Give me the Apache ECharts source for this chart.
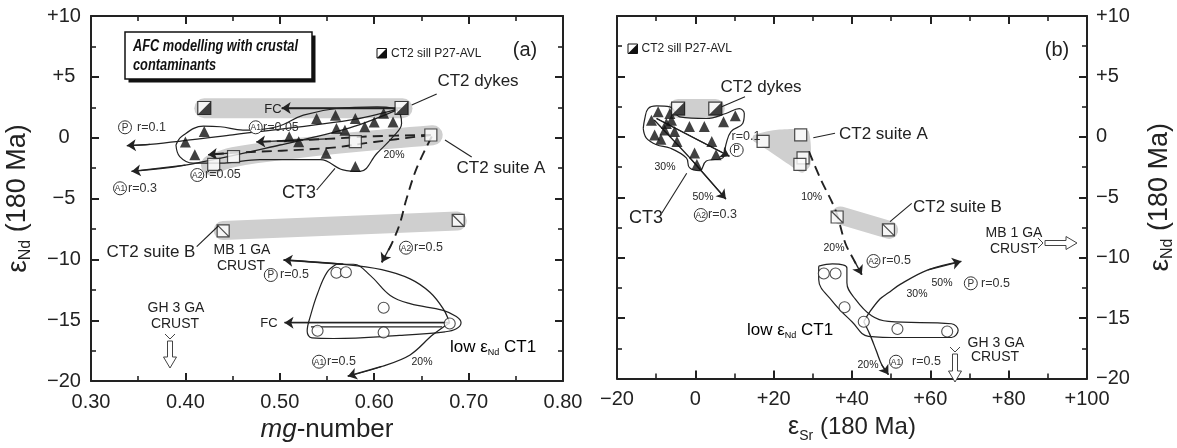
<!DOCTYPE html>
<html><head><meta charset="utf-8">
<script src="https://cdn.jsdelivr.net/npm/echarts@6/dist/echarts.min.js"></script>
<style>html,body{margin:0;padding:0;background:#fff}#chart{width:1177px;height:448px}</style>
</head><body><div id="chart"></div>
<script>
// ===== Panel (a): mg-number vs eNd(180 Ma) =====
const a_ct3 = [[0.400,-0.35],[0.420,0.50],[0.410,-1.40],[0.510,0.08],[0.520,-0.33],[0.539,1.58],[0.559,1.85],[0.580,1.58],[0.560,0.76],[0.569,0.62],[0.590,0.90],[0.600,1.30],[0.610,2.00],[0.620,1.30],[0.549,-1.28],[0.580,-2.37]];
const a_dykes = [[0.420,2.44],[0.629,2.44]];
const a_suiteA = [[0.430,-2.20],[0.451,-1.55],[0.580,-0.33],[0.660,0.22]];
const a_suiteB = [[0.440,-7.66],[0.689,-6.80]];
const a_ct1 = [[0.560,-11.10],[0.570,-11.06],[0.610,-13.97],[0.540,-15.86],[0.610,-16.00],[0.680,-15.27]];
const a_bandDykes = [[0.420,2.42],[0.630,2.42]];
const a_bandSuiteA = [[0.427,-2.25],[0.451,-1.60],[0.520,-0.85],[0.580,-0.35],[0.662,0.20]];
const a_bandSuiteB = [[0.440,-7.62],[0.688,-6.85]];
const a_ct3Field = [[0.390,-0.6],[0.396,0.1],[0.419,0.95],[0.437,0.9],[0.461,0.63],[0.497,0.9],[0.525,1.85],[0.560,2.4],[0.603,2.53],[0.624,2.26],[0.629,1.17],[0.620,0.08],[0.603,-1.28],[0.585,-2.77],[0.567,-2.64],[0.543,-1.8],[0.479,-1.8],[0.437,-2.09],[0.408,-2.09],[0.394,-1.55],[0.390,-0.6]];
const a_ct1Field = [[0.560,-10.4],[0.578,-10.4],[0.596,-11.33],[0.617,-12.96],[0.638,-13.64],[0.673,-14.19],[0.687,-14.7],[0.692,-15.2],[0.687,-15.7],[0.675,-15.95],[0.627,-16.25],[0.557,-16.5],[0.534,-16.45],[0.529,-15.9],[0.533,-14.5],[0.540,-12.8],[0.550,-11.06],[0.560,-10.4]];
const a_ct1Capsule = [[0.533,-15.55],[0.672,-15.55]];
const a_fcTop = [[0.629,2.44],[0.502,2.44]];
const a_pR01 = [[0.625,2.35],[0.574,1.44],[0.450,0.24],[0.3625,-0.55],[0.338,-0.65]];
const a_a1R03 = [[0.625,2.30],[0.574,0.80],[0.500,-0.60],[0.400,-2.25],[0.343,-2.77]];
const a_a1R005 = [[0.660,0.22],[0.600,0.12],[0.550,-0.10],[0.475,-0.35]];
const a_a2R005 = [[0.660,0.22],[0.600,-0.35],[0.553,-0.84],[0.450,-1.25],[0.424,-1.40]];
const a_a2R05 = [[0.661,0.10],[0.645,-2.50],[0.634,-5.08],[0.627,-7.10],[0.618,-8.80],[0.608,-10.24]];
const a_fcLow = [[0.680,-15.20],[0.505,-15.20]];
const a_pR05 = [[0.680,-15.20],[0.673,-14.05],[0.659,-12.70],[0.638,-11.60],[0.608,-10.84],[0.567,-10.40],[0.504,-10.05]];
const a_a1R05 = [[0.680,-15.20],[0.662,-16.20],[0.638,-17.85],[0.608,-18.80],[0.572,-19.60]];

// ===== Panel (b): eSr vs eNd (180 Ma) =====
const b_ct3 = [[-11.2,1.38],[-9.5,2.07],[-6.5,1.93],[-6.1,1.38],[-10.4,0.16],[-8.8,-0.2],[-7.8,0.57],[-7.4,1.11],[-5.3,0.44],[-4.7,-0.38],[-1.5,0.85],[2.3,0.85],[7.2,1.25],[10.2,1.74],[4.2,-0.38],[5.3,-1.47],[-0.2,-1.33],[0.4,-2.28]];
const b_dykes = [[-4.4,2.34],[5.1,2.34]];
const b_suiteA = [[17.3,-0.38],[26.9,0.16],[27.5,-1.74],[26.7,-2.28]];
const b_suiteB = [[36.2,-6.63],[49.3,-7.70]];
const b_ct1 = [[32.8,-11.3],[35.8,-11.3],[38.1,-14.1],[43.0,-15.3],[51.6,-15.9],[64.3,-16.1]];
const b_bandDykes = [[-4.4,2.34],[5.1,2.34]];
const b_patchSuiteA = [[14.6,-0.25],[15.0,0.16],[20.5,0.57],[26.4,0.65],[28.98,0.44],[29.4,-2.28],[27.3,-2.96],[23.9,-2.28],[17.1,-0.79]];
const b_bandSuiteB = [[37.0,-6.5],[49.5,-7.7]];
const b_ct3Field = [[-13.3,0.7],[-12.9,1.52],[-12.05,2.34],[-9.9,2.56],[-6.5,2.48],[-4.0,1.66],[2.8,1.52],[7.8,1.93],[11.2,2.34],[12.5,1.93],[12.1,1.11],[9.1,0.44],[7.8,-0.65],[7.0,-1.74],[2.8,-2.0],[1.1,-2.8],[-1.5,-2.55],[-2.3,-1.74],[-6.5,-0.92],[-9.9,-0.65],[-12.5,-0.1],[-13.3,0.7]];
const b_ct1Field = [[31.5,-10.7],[35.0,-10.5],[38.7,-10.84],[38.7,-12.07],[40.8,-13.4],[45.0,-14.8],[49.3,-15.27],[65.4,-15.46],[67.1,-16.0],[65.4,-16.6],[52.7,-16.6],[44.2,-16.5],[40.0,-15.3],[34.9,-13.56],[31.5,-11.8],[31.5,-10.7]];
const b_pR01 = [[-9.9,1.52],[8.7,-1.6]];
const b_a2R03 = [[-10.5,1.4],[-1.5,-1.7],[7.8,-5.14]];
const b_a2R05 = [[29.0,-1.2],[32.0,-3.5],[35.8,-6.08],[38.3,-8.8],[40.5,-10.2],[42.5,-11.4]];
const b_pR05 = [[43.0,-15.3],[44.5,-14.5],[47.2,-13.4],[49.3,-12.9],[52.3,-12.2],[59.4,-11.0],[67.9,-10.3]];
const b_a1R05 = [[43.0,-15.3],[44.5,-16.3],[46.2,-17.7],[47.6,-18.86],[49.3,-19.67]];

// axis ranges / ticks
const A_X = {min:0.3, max:0.8, interval:0.1};
const B_X = {min:-20, max:100, interval:20};
const ND_Y = {min:-20, max:10, interval:5};

const FONT = '"Liberation Sans", Arial, Helvetica, sans-serif';
const INK = '#222';
const GREY = '#cfcfcf';

const sign = v => v > 0 ? '+' + v : (v < 0 ? '\u2212' + Math.abs(v) : '0');

function axis(o) {
  return Object.assign({
    type:'value', scale:false,
    axisLine:{show:true, onZero:false, lineStyle:{color:INK, width:2}},
    axisTick:{show:true, inside:true, length:8, lineStyle:{color:INK, width:2}},
    minorTick:{show:true, splitNumber:2, length:5, lineStyle:{color:INK, width:1.6}},
    splitLine:{show:false}, minorSplitLine:{show:false},
    axisLabel:{show:false}
  }, o);
}
const lab = (fmt, margin, extra) => Object.assign({show:true, formatter:fmt, color:INK, fontSize:20, fontFamily:FONT, margin:margin, showMinLabel:true, showMaxLabel:true}, extra || {});
const mkRich = (big) => ({
  e:{fontSize:big + 1, fontFamily:FONT, color:INK, lineHeight:32},
  s:{fontSize:Math.round(big * 0.6), fontFamily:FONT, color:INK, lineHeight:12, verticalAlign:'bottom'},
  t:{fontSize:big, fontFamily:FONT, color:INK, lineHeight:32},
  i:{fontSize:big, fontFamily:FONT, color:INK, lineHeight:32, fontStyle:'italic'}
});

const S = [];
const idx = p => p === 'a' ? {xAxisIndex:0, yAxisIndex:0} : {xAxisIndex:2, yAxisIndex:3};
function line(data, p, o) {
  S.push(Object.assign({type:'line', data:data, symbol:'none', silent:true, animation:false, z:3,
    lineStyle:{color:INK, width:1.3}}, idx(p), o || {}));
}
function arrowCurve(data, p, dashed, smooth) {
  const n = data.length;
  const ls = {color:INK, width: dashed ? 1.9 : 1.3, type: dashed ? [10,6] : 'solid'};
  line(data, p, {smooth: smooth === undefined ? 0.35 : smooth, lineStyle: ls,
    markLine:{silent:true, animation:false, symbol:['none','arrow'], symbolSize:9,
      label:{show:false}, lineStyle:{color:INK, width:1.3, type:'solid'},
      data:[[{coord:data[n-2]},{coord:data[n-1]}]]}});
}
function band(data, p, w) {
  line(data, p, {smooth:0.4, z:1, lineStyle:{color:GREY, width:w, cap:'round', join:'round'}});
}
function outline(data, p) { line(data, p, {smooth:0.4, z:2, lineStyle:{color:INK, width:1.2}}); }
function pts(data, p, o) {
  S.push(Object.assign({type:'scatter', data:data, silent:true, animation:false, z:5}, idx(p), o));
}
const tri = {symbol:'triangle', symbolSize:11, itemStyle:{color:'#111'}};
const openSq = {symbol:'rect', symbolSize:12, itemStyle:{color:'#fff', borderColor:INK, borderWidth:1.2}};
const openCirc = {symbol:'circle', symbolSize:11, itemStyle:{color:'#fff', borderColor:INK, borderWidth:1.1}};
const slashSq = {symbol:'path://M0,0H10V10H0Z M0,0L10,10', symbolSize:12, itemStyle:{color:'#fff', borderColor:INK, borderWidth:1.2}};
const halfBase = {symbol:'rect', symbolSize:13, itemStyle:{color:'#fff', borderColor:'#111', borderWidth:1.2}};
const halfTop = {symbol:'path://M10,0L10,10L0,10Z', symbolSize:13, z:6, itemStyle:{color:'#111'}};

// ---- panel a series ----
band(a_bandDykes, 'a', 20);
band(a_bandSuiteA, 'a', 20);
band(a_bandSuiteB, 'a', 19);
outline(a_ct3Field, 'a');
outline(a_ct1Field, 'a');
line(a_ct1Capsule, 'a', {lineStyle:{color:INK, width:1.2}});
arrowCurve(a_fcTop, 'a', false, false);
arrowCurve(a_pR01, 'a', false);
arrowCurve(a_a1R03, 'a', false);
arrowCurve(a_a1R005, 'a', true);
arrowCurve(a_a2R005, 'a', true);
arrowCurve(a_a2R05, 'a', true);
arrowCurve(a_fcLow, 'a', false, false);
arrowCurve(a_pR05, 'a', false);
arrowCurve(a_a1R05, 'a', false);
pts(a_ct3, 'a', tri);
pts(a_suiteA, 'a', openSq);
pts(a_suiteB, 'a', slashSq);
pts(a_ct1, 'a', openCirc);
pts(a_dykes, 'a', halfBase);
pts(a_dykes, 'a', halfTop);

// ---- panel b series ----
band(b_bandDykes, 'b', 19);
band(b_bandSuiteB, 'b', 18);
S.push({type:'custom', xAxisIndex:2, yAxisIndex:3, data:[[0,0]], silent:true, animation:false, z:1,
  renderItem:(params, api) => ({type:'polygon', shape:{points:b_patchSuiteA.map(pt => api.coord(pt)), smooth:0.25},
    style:{fill:GREY}})});
outline(b_ct3Field, 'b');
outline(b_ct1Field, 'b');
arrowCurve(b_pR01, 'b', false, false);
arrowCurve(b_a2R03, 'b', false, 0.2);
arrowCurve(b_a2R05, 'b', true);
arrowCurve(b_pR05, 'b', false);
arrowCurve(b_a1R05, 'b', false);
pts(b_ct3, 'b', tri);
pts(b_suiteA, 'b', openSq);
pts(b_suiteB, 'b', slashSq);
pts(b_ct1, 'b', openCirc);
pts(b_dykes, 'b', halfBase);
pts(b_dykes, 'b', halfTop);

// ---- annotations (graphic) ----
const G = [];
function txt(x, y, text, size, o) {
  G.push({type:'text', x:x, y:y, silent:true, z:20,
    style:Object.assign({text:text, fill:INK, fontSize:size, fontFamily:FONT, align:'center', verticalAlign:'middle'}, o || {})});
}
function seg(x1, y1, x2, y2, w) {
  G.push({type:'line', silent:true, z:20, shape:{x1:x1, y1:y1, x2:x2, y2:y2}, style:{stroke:INK, lineWidth:w || 1.1}});
}
function circ(cx, cy, t) {
  G.push({type:'circle', silent:true, z:20, shape:{cx:cx, cy:cy, r:6.5}, style:{fill:'#fff', stroke:'#333', lineWidth:1}});
  txt(cx, cy + 0.5, t, t.length > 1 ? 8.5 : 10, {fill:'#333'});
}
function tag(cx, cy, t, r, tx) { circ(cx, cy, t); txt(tx, cy, r, 12.5, {align:'left', fill:'#333'}); }
function downArrow(cx, y0, y1) {
  G.push({type:'polygon', silent:true, z:20, shape:{points:[[cx-2.5,y0],[cx+2.5,y0],[cx+2.5,y1-11],[cx+6.5,y1-11],[cx,y1],[cx-6.5,y1-11],[cx-2.5,y1-11]]},
    style:{fill:'#fff', stroke:'#444', lineWidth:1}});
  G.push({type:'polyline', silent:true, z:20, shape:{points:[[cx-5,y0-7],[cx,y0-2],[cx+5,y0-7]]}, style:{stroke:'#444', fill:null, lineWidth:1}});
}
function rightArrow(x0, x1, cy) {
  G.push({type:'polygon', silent:true, z:20, shape:{points:[[x0,cy-2.5],[x1-11,cy-2.5],[x1-11,cy-6.5],[x1,cy],[x1-11,cy+6.5],[x1-11,cy+2.5],[x0,cy+2.5]]},
    style:{fill:'#fff', stroke:'#444', lineWidth:1}});
  G.push({type:'polyline', silent:true, z:20, shape:{points:[[x0-7,cy-5],[x0-2,cy],[x0-7,cy+5]]}, style:{stroke:'#444', fill:null, lineWidth:1}});
}
function halfIcon(x, y, s) {
  G.push({type:'rect', silent:true, z:20, shape:{x:x, y:y, width:s, height:s}, style:{fill:'#fff', stroke:'#111', lineWidth:1}});
  G.push({type:'polygon', silent:true, z:20, shape:{points:[[x+s,y],[x+s,y+s],[x,y+s]]}, style:{fill:'#111'}});
}
const lowRich = {a:{fontSize:17, fontFamily:FONT, color:INK, lineHeight:20}, s:{fontSize:9, fontFamily:FONT, color:INK, lineHeight:9, verticalAlign:'bottom'}};

// panel a text
G.push({type:'rect', silent:true, z:19, shape:{x:128.5, y:35.5, width:187, height:47}, style:{fill:'#111'}});
G.push({type:'rect', silent:true, z:20, shape:{x:125, y:32, width:187, height:47}, style:{fill:'#fff', stroke:'#111', lineWidth:1.5}});
G.push({type:'text', silent:true, z:21, x:133, y:47, scaleX:0.8, style:{text:'AFC modelling with crustal', fill:'#111', font:'italic bold 16px ' + FONT, verticalAlign:'middle'}});
G.push({type:'text', silent:true, z:21, x:133, y:66, scaleX:0.8, style:{text:'contaminants', fill:'#111', font:'italic bold 16px ' + FONT, verticalAlign:'middle'}});
halfIcon(377, 48.5, 9.5);
txt(391, 53.5, 'CT2 sill P27-AVL', 12, {align:'left'});
txt(525, 50, '(a)', 20);
txt(478, 81, 'CT2 dykes', 17); seg(436.7, 94, 411.7, 105);
txt(501, 168, 'CT2 suite A', 17); seg(445, 140, 471.7, 157);
txt(299, 193, 'CT3', 18); seg(316.7, 190, 335, 168.3);
txt(151, 252, 'CT2 suite B', 17); seg(196.7, 246.7, 218.3, 226);
txt(242, 250, 'MB 1 GA', 14); txt(241, 266, 'CRUST', 14);
txt(176, 308, 'GH 3 GA', 14); txt(175, 324, 'CRUST', 14);
downArrow(170, 341, 368);
txt(273, 109, 'FC', 13); txt(269, 323.5, 'FC', 13);
tag(125, 127.3, 'P', 'r=0.1', 137);
tag(255.7, 127.3, 'A1', 'r=0.05', 263);
tag(197.3, 175, 'A2', 'r=0.05', 205);
tag(120, 188.3, 'A1', 'r=0.3', 128);
tag(270.8, 275, 'P', 'r=0.5', 280);
tag(319, 361.7, 'A1', 'r=0.5', 327);
tag(406, 247.7, 'A2', 'r=0.5', 414);
txt(394, 155, '20%', 10.5); txt(422, 362.3, '20%', 10.5);
G.push({type:'text', silent:true, z:20, x:450, y:347, style:{text:'{a|low \u03b5}{s|Nd}{a| CT1}', verticalAlign:'middle', align:'left', rich:lowRich}});

// panel b text
halfIcon(628, 44, 9.5);
txt(641.5, 48.5, 'CT2 sill P27-AVL', 12, {align:'left'});
txt(1057, 50, '(b)', 20);
txt(761, 87, 'CT2 dykes', 17); seg(745, 96.7, 721.7, 106.7);
txt(839, 134, 'CT2 suite A', 17, {align:'left'}); seg(835, 133.3, 813.3, 137.7);
txt(646, 218, 'CT3', 18); seg(661.7, 213.3, 686.7, 173.3);
txt(957.5, 207, 'CT2 suite B', 17); seg(911.7, 203.3, 890, 221.7);
txt(1014, 233.5, 'MB 1 GA', 14); txt(1014, 249.3, 'CRUST', 14);
rightArrow(1045, 1077, 243);
txt(996, 342.7, 'GH 3 GA', 14); txt(995, 357.5, 'CRUST', 14);
downArrow(955, 354, 382);
tag(970.8, 283.3, 'P', 'r=0.5', 981);
tag(896, 361.7, 'A1', 'r=0.5', 912);
tag(873.5, 261, 'A2', 'r=0.5', 882);
tag(736.7, 150, 'P', '', 745);
txt(731.5, 137, 'r=0.1', 12.5, {align:'left', fill:'#333'});
tag(700.8, 215, 'A2', 'r=0.3', 708);
txt(942, 283.3, '50%', 10.5); txt(917, 294, '30%', 10.5);
txt(868, 365, '20%', 10.5);
txt(665, 166.7, '30%', 10.5); txt(703, 196.7, '50%', 10.5);
txt(811.7, 196.7, '10%', 10.5); txt(834, 248.3, '20%', 10.5);
G.push({type:'text', silent:true, z:20, x:747, y:330, style:{text:'{a|low \u03b5}{s|Nd}{a| CT1}', verticalAlign:'middle', align:'left', rich:lowRich}});

const option = {
  animation:false,
  backgroundColor:'#fff',
  grid:[{left:91, top:16, width:472, height:367}, {left:617, top:16, width:473, height:367}],
  xAxis:[
    axis(Object.assign({gridIndex:0, position:'bottom', axisLabel:lab(v => v.toFixed(2), 11),
      name:'{i|mg}{t|-number}', nameLocation:'middle', nameGap:28, nameTextStyle:{rich:mkRich(26)}}, A_X)),
    axis(Object.assign({gridIndex:0, position:'top'}, A_X)),
    axis(Object.assign({gridIndex:1, position:'bottom', axisLabel:lab(sign, 11),
      name:'{e|\u03b5}{s|Sr}{t| (180 Ma)}', nameLocation:'middle', nameGap:28, nameTextStyle:{rich:mkRich(24)}}, B_X)),
    axis(Object.assign({gridIndex:1, position:'top'}, B_X))
  ],
  yAxis:[
    axis(Object.assign({gridIndex:0, position:'left', axisLabel:lab(sign, 27, {align:'center'}),
      name:'{e|\u03b5}{s|Nd}{t| (180 Ma)}', nameLocation:'middle', nameGap:57, nameTextStyle:{rich:mkRich(27)}}, ND_Y)),
    axis(Object.assign({gridIndex:0, position:'right'}, ND_Y)),
    axis(Object.assign({gridIndex:1, position:'left'}, ND_Y)),
    axis(Object.assign({gridIndex:1, position:'right', axisLabel:lab(sign, 9),
      name:'{e|\u03b5}{s|Nd}{t| (180 Ma)}', nameLocation:'middle', nameGap:57, nameTextStyle:{rich:mkRich(27)}}, ND_Y))
  ],
  series:S,
  graphic:G
};
const chart = echarts.init(document.getElementById('chart'));
chart.setOption(option);
</script>
</body></html>
